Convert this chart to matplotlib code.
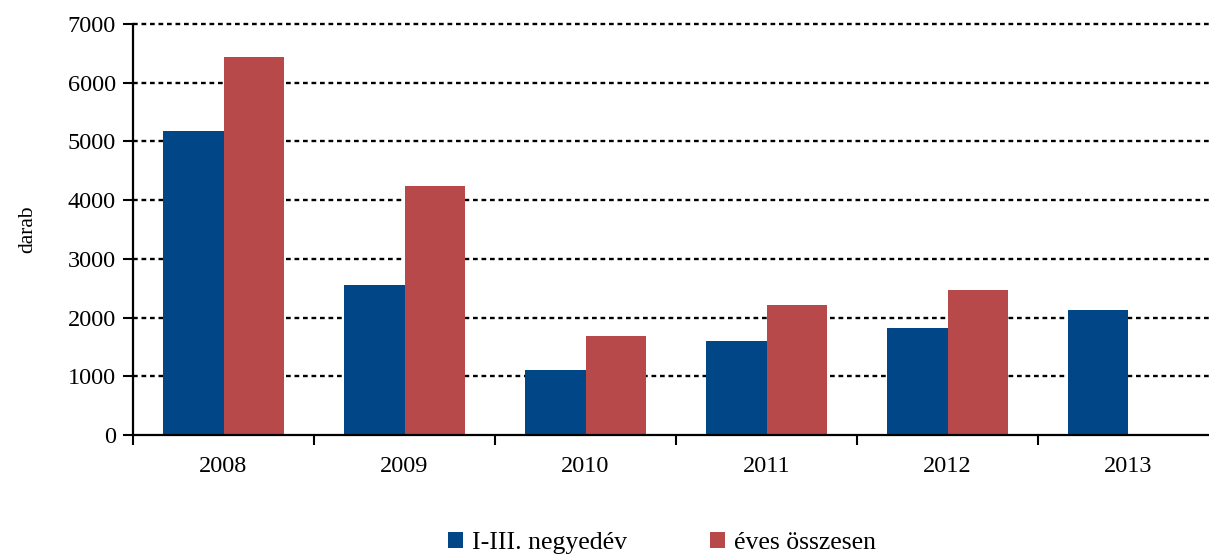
import matplotlib
matplotlib.use("Agg")
import matplotlib.pyplot as plt
import numpy as np

years = ["2008", "2009", "2010", "2011", "2012", "2013"]
q1_3 = [5180, 2555, 1107, 1601, 1822, 2129]
annual = [6440, 4241, 1686, 2214, 2470, np.nan]
series_names = ["I-III. negyedév", "éves összesen"]
y_ticks = [0, 1000, 2000, 3000, 4000, 5000, 6000, 7000]
y_label = "darab"

blue = "#014788"
red = "#B8494A"

plt.rcParams['font.family'] = ['Liberation Serif', 'DejaVu Serif']

fig = plt.figure(figsize=(12.09, 5.56), dpi=100)
ax = fig.add_axes([133/1209, (556-435)/556, 1086/1209, (435-24)/556])

x = np.arange(len(years))
w = 1/3
ax.bar(x - w/2, q1_3, width=w, color=blue, label=series_names[0], zorder=3)
ax.bar(x + w/2, annual, width=w, color=red, label=series_names[1], zorder=3)

ax.set_xlim(-0.5, len(years) - 0.5)
ax.set_ylim(0, 7000)
ax.set_yticks(y_ticks)
ax.set_yticklabels([str(v) for v in y_ticks], fontsize=17.5)

ax.set_xticks(np.arange(-0.5, len(years) + 0.5, 1))
ax.set_xticklabels([])
ax.set_xticks(x, minor=True)
ax.set_xticklabels(years, minor=True, fontsize=17.5)
ax.tick_params(axis='x', which='major', direction='out', length=7.5, width=1.5, color='black')
ax.tick_params(axis='x', which='minor', length=0, pad=15)
ax.tick_params(axis='y', direction='out', length=7.5, width=1.5, pad=5)

for v in y_ticks[1:]:
    ax.axhline(v, color='black', lw=1.7, linestyle=(0, (2.0, 1.6)), zorder=1, clip_on=False)

for s in ['top', 'right']:
    ax.spines[s].set_visible(False)
ax.spines['left'].set_linewidth(1.6)
ax.spines['bottom'].set_linewidth(1.6)
ax.spines['bottom'].set_zorder(4)

ax.set_ylabel(y_label, fontsize=15.5, labelpad=22)

fig.legend(loc='center', bbox_to_anchor=(662/1209, 1 - 543/556), ncol=2, frameon=False,
           fontsize=18.5, handlelength=0.6, handleheight=0.6, handletextpad=0.35,
           columnspacing=3.2)

fig.savefig("out.png", dpi=100)
